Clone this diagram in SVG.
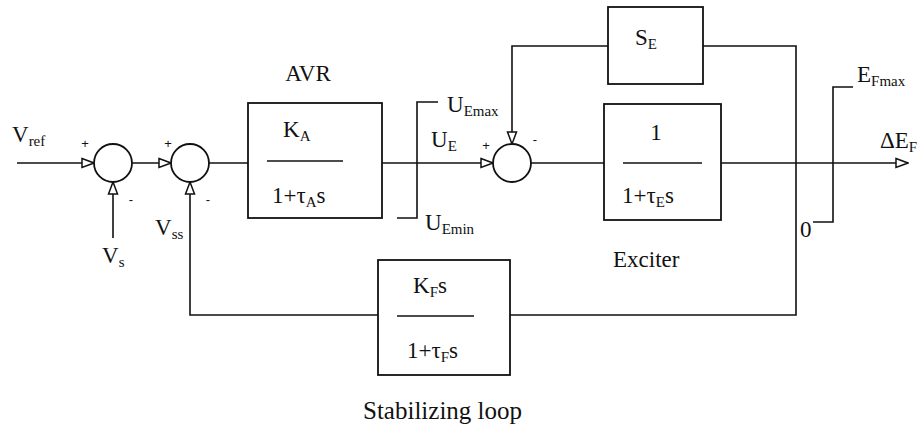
<svg xmlns="http://www.w3.org/2000/svg" width="923" height="429" viewBox="0 0 923 429">
<style>
.ln{fill:none;stroke:#111;stroke-width:1.6}
.bx{fill:#fff;stroke:#111;stroke-width:1.8}
.t{font-family:"Liberation Serif","Times New Roman",serif;font-size:23px;fill:#111}
.s{font-size:15px}
.sg{font-family:"Liberation Sans",Arial,sans-serif;font-size:13px;fill:#111;text-anchor:middle}
</style>
<defs>
<marker id="arr" viewBox="0 0 14 12" refX="13" refY="6" markerWidth="14" markerHeight="12" markerUnits="userSpaceOnUse" orient="auto">
<path d="M1,1.5 L13,6 L1,10.5 Z" fill="#fff" stroke="#111" stroke-width="1.5"/>
</marker>
</defs>
<rect width="923" height="429" fill="#fff"/>

<g id="connectors">
<path class="ln" d="M17,163 H94" marker-end="url(#arr)"/>
<path class="ln" d="M113,238 V182" marker-end="url(#arr)"/>
<path class="ln" d="M132,163 H171" marker-end="url(#arr)"/>
<path class="ln" d="M378,315 H190 V182" marker-end="url(#arr)"/>
<path class="ln" d="M209,163 H248"/>
<path class="ln" d="M382,163 H493" marker-end="url(#arr)"/>
<path class="ln" d="M608,46 H512 V144" marker-end="url(#arr)"/>
<path class="ln" d="M531,163 H604"/>
<path class="ln" d="M721,163 H908" marker-end="url(#arr)"/>
<path class="ln" d="M703,46 H796 V315 H510"/>
</g>

<g id="sum1"><circle class="bx" cx="113" cy="163" r="19"/>
<text class="sg" x="85" y="148">+</text><text class="sg" x="131" y="204">-</text></g>
<g id="sum2"><circle class="bx" cx="190" cy="163" r="19"/>
<text class="sg" x="168" y="148">+</text><text class="sg" x="208" y="204">-</text></g>
<g id="sum3"><circle class="bx" cx="512" cy="163" r="19"/>
<text class="sg" x="486" y="150">+</text><text class="sg" x="535" y="144">-</text></g>

<g id="avr">
<rect class="bx" x="248" y="103" width="134" height="115"/>
<path class="ln" d="M267,161 H343"/>
<text class="t" x="283" y="137">K<tspan class="s" dy="4">A</tspan></text>
<text class="t" x="272" y="203">1+τ<tspan class="s" dy="4">A</tspan><tspan dy="-4">s</tspan></text>
<text class="t" x="308" y="81" text-anchor="middle">AVR</text>
</g>

<g id="limiter1">
<path class="ln" d="M438,102 H417 V218 H397"/>
<text class="t" x="447" y="112">U<tspan class="s" dy="4">Emax</tspan></text>
<text class="t" x="425" y="230">U<tspan class="s" dy="4">Emin</tspan></text>
</g>

<g id="se">
<rect class="bx" x="608" y="7" width="95" height="77"/>
<text class="t" x="635" y="45">S<tspan class="s" dy="4">E</tspan></text>
</g>

<g id="exciter">
<rect class="bx" x="604" y="104" width="117" height="116"/>
<path class="ln" d="M623,163 H702"/>
<text class="t" x="656" y="140" text-anchor="middle">1</text>
<text class="t" x="622" y="203">1+τ<tspan class="s" dy="4">E</tspan><tspan dy="-4">s</tspan></text>
<text class="t" x="613" y="267">Exciter</text>
</g>

<g id="limiter2">
<path class="ln" d="M853,87 H833 V222 H813"/>
<text class="t" x="857" y="82">E<tspan class="s" dy="4">Fmax</tspan></text>
<text class="t" x="800" y="237">0</text>
</g>

<g id="stab">
<rect class="bx" x="378" y="260" width="132" height="115"/>
<path class="ln" d="M397,316 H474"/>
<text class="t" x="413" y="293">K<tspan class="s" dy="4">F</tspan><tspan dy="-4">s</tspan></text>
<text class="t" x="407" y="358">1+τ<tspan class="s" dy="4">F</tspan><tspan dy="-4">s</tspan></text>
<text class="t" x="363" y="419" style="font-size:25px">Stabilizing loop</text>
</g>

<g id="labels">
<text class="t" x="12" y="142">V<tspan class="s" dy="4">ref</tspan></text>
<text class="t" x="102" y="263">V<tspan class="s" dy="4">s</tspan></text>
<text class="t" x="155" y="235">V<tspan class="s" dy="4">ss</tspan></text>
<text class="t" x="431" y="147">U<tspan class="s" dy="4">E</tspan></text>
<text class="t" x="880" y="148">ΔE<tspan class="s" dy="4">F</tspan></text>
</g>
</svg>
